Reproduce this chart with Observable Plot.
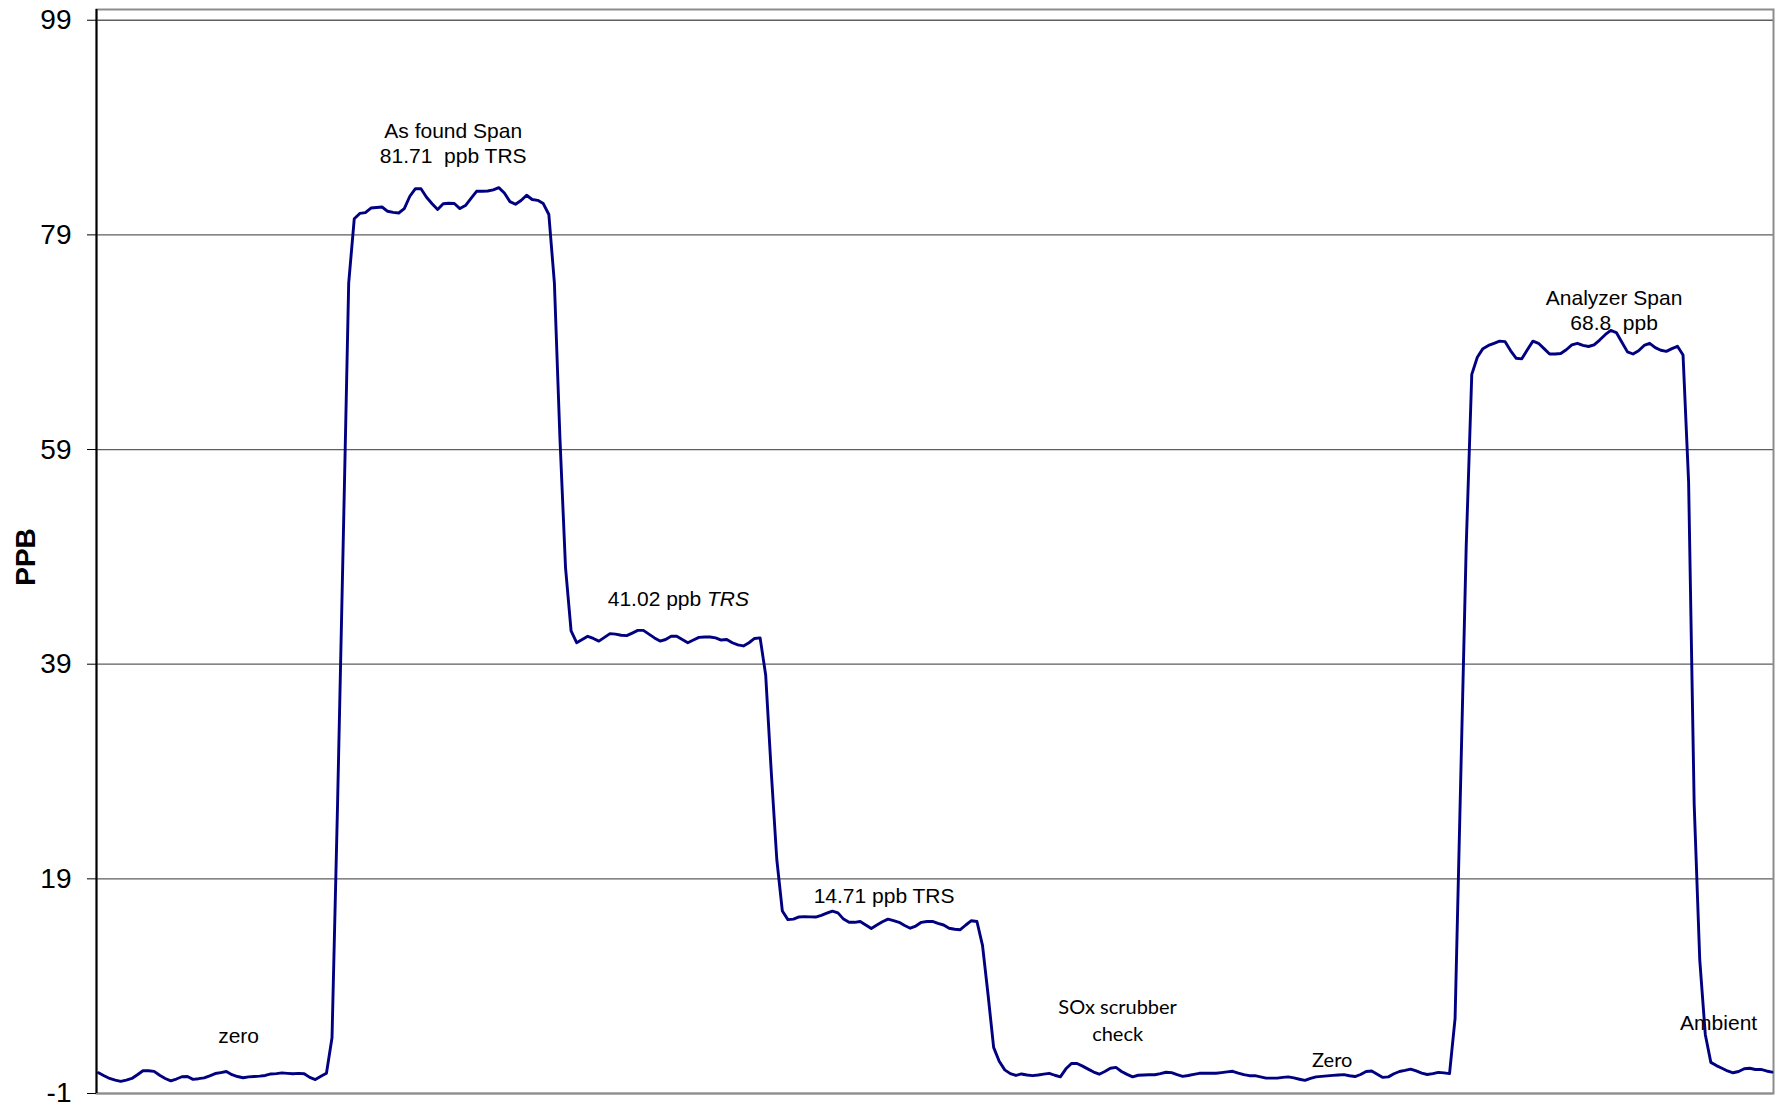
<!DOCTYPE html>
<html>
<head>
<meta charset="utf-8">
<script src="https://cdn.jsdelivr.net/npm/d3@7"></script>
<script src="https://cdn.jsdelivr.net/npm/@observablehq/plot@0.6"></script>
<style>
  body { margin: 0; background: #fff; }
  svg text { white-space: pre; }
</style>
</head>
<body>
<div id="chart"></div>
<script>
// Analyzer reading (PPB), one value per sample
const ppb = [
  // zero
  0.93, 0.65, 0.40, 0.25, 0.13, 0.25, 0.40, 0.75, 1.12, 1.12,
  1.06, 0.70, 0.40, 0.18, 0.35, 0.56, 0.58, 0.32, 0.38, 0.46,
  0.65, 0.86, 0.95, 1.05, 0.75, 0.58, 0.47, 0.55, 0.58, 0.62,
  0.68, 0.82, 0.85, 0.92, 0.88, 0.84, 0.88, 0.84, 0.50, 0.30,
  0.60, 0.88,
  // rise to as-found span
  4.2, 26, 50, 74.5, 80.5,
  81.0, 81.08, 81.5, 81.55, 81.6, 81.2, 81.1, 81.04, 81.45, 82.6,
  83.3, 83.3, 82.5, 81.9, 81.36, 81.9, 81.95, 81.92, 81.45, 81.73,
  82.4, 83.06, 83.07, 83.09, 83.2, 83.4, 82.9, 82.1, 81.85, 82.2,
  82.69, 82.3, 82.22, 81.92, 80.9,
  // drop to 41 ppb
  74.5, 60, 48, 42.1, 41.0,
  41.3, 41.6, 41.4, 41.15, 41.5, 41.85, 41.8, 41.7, 41.66, 41.9,
  42.15, 42.15, 41.8, 41.45, 41.15, 41.3, 41.6, 41.6, 41.3, 41.0,
  41.25, 41.5, 41.53, 41.53, 41.45, 41.25, 41.3, 41.0, 40.8, 40.7,
  41.0, 41.4, 41.45,
  // drop to 14.7 ppb
  38, 29, 20.8, 16.0, 15.2,
  15.25, 15.45, 15.48, 15.46, 15.44, 15.6, 15.8, 15.99, 15.83, 15.25,
  14.95, 14.95, 15.03, 14.7, 14.38, 14.7, 15.0, 15.25, 15.1, 14.95,
  14.65, 14.4, 14.6, 14.95, 15.03, 15.03, 14.85, 14.7, 14.4, 14.3,
  14.26, 14.7, 15.1, 15.03,
  // drop to SOx scrubber check / zero
  12.8, 8.2, 3.3, 2.0, 1.2, 0.85, 0.68, 0.82, 0.72, 0.66,
  0.72, 0.8, 0.88, 0.7, 0.55, 1.3, 1.8, 1.8,
  1.55, 1.27, 1.0, 0.8, 1.05, 1.35, 1.43, 1.05, 0.78, 0.55,
  0.7, 0.72, 0.75, 0.75, 0.85, 0.98, 0.94, 0.75, 0.6, 0.68,
  0.78, 0.88, 0.89, 0.89, 0.89, 0.95, 1.02, 1.07, 0.9, 0.76,
  0.66, 0.67, 0.55, 0.43, 0.43, 0.43, 0.5, 0.55, 0.45, 0.33,
  0.22, 0.4, 0.55, 0.6, 0.64, 0.69, 0.73, 0.76, 0.65, 0.58,
  0.77, 1.05, 1.1, 0.8, 0.5, 0.55, 0.84, 1.05, 1.15, 1.27,
  1.1, 0.9, 0.77, 0.85, 0.97, 0.92, 0.85,
  // rise to analyzer span
  6, 28, 50, 66, 67.6,
  68.4, 68.7, 68.9, 69.1, 69.05, 68.2, 67.5, 67.45, 68.3, 69.1,
  68.9, 68.4, 67.9, 67.9, 67.95, 68.3, 68.75, 68.9, 68.7, 68.6,
  68.75, 69.2, 69.7, 70.1, 69.9, 69.0, 68.1, 67.9, 68.2, 68.7,
  68.9, 68.5, 68.25, 68.15, 68.4, 68.62, 67.8,
  // drop to ambient
  56, 26, 11.5, 4.5, 1.9, 1.6, 1.35, 1.1, 0.93, 1.05,
  1.3, 1.35, 1.24, 1.24, 1.1, 0.99
];

const yTicks = [-1, 19, 39, 59, 79, 99];
const yLabel = "PPB";

// annotations: sample index and PPB level of the last text line's baseline
const arialNotes = [
  { i: 63.8, v: 85.67, text: "As found Span\n81.71  ppb TRS" },
  { i: 104.3, v: 44.39, text: "41.02 ppb TRS" },
  { i: 141.3, v: 16.74, text: "14.71 ppb TRS" },
  { i: 25.2, v: 3.66, text: "zero" },
  { i: 272.6, v: 70.11, text: "Analyzer Span\n68.8  ppb" },
  { i: 291.4, v: 4.96, text: "Ambient" }
];
const calibriNotes = [
  { i: 183.3, v: 3.85, text: "SOx scrubber\ncheck" },
  { i: 221.9, v: 1.45, text: "Zero" }
];

const data = ppb.map((v, i) => ({ i, v }));

const chart = Plot.plot({
  width: 1775,
  height: 1106,
  marginLeft: 96,
  marginRight: 2,
  marginTop: 9,
  marginBottom: 13,
  x: { domain: [0, ppb.length - 1], range: [98, 1771.5], axis: null },
  y: { domain: [-1, 100], axis: null },
  style: { fontFamily: "'Liberation Sans', Arial, sans-serif", color: "black", background: "white" },
  marks: [
    Plot.ruleY(yTicks, { stroke: "#5e5e5e", strokeWidth: 1.3 }),
    Plot.frame({ stroke: "#8c8c8c", strokeWidth: 2 }),
    Plot.ruleX([0], { dx: -2, stroke: "#000", strokeWidth: 2 }),
    Plot.axisY(yTicks, {
      tickSize: 9, tickPadding: 16, fontSize: 28, label: null, stroke: "#000",
      tickFormat: (d) => String(d)
    }),
    Plot.line(data, { x: "i", y: "v", stroke: "#000080", strokeWidth: 2.9 }),
    Plot.text(arialNotes, {
      x: "i", y: "v", text: "text",
      textAnchor: "middle", lineAnchor: "bottom", lineHeight: 1.22,
      fontSize: 21, fill: "#000",
      fontFamily: "'Liberation Sans', Arial, sans-serif"
    }),
    Plot.text(calibriNotes, {
      x: "i", y: "v", text: "text",
      textAnchor: "middle", lineAnchor: "bottom", lineHeight: 1.35,
      fontSize: 20, fill: "#000",
      fontFamily: "Lato, 'Open Sans', sans-serif"
    })
  ]
});

// italic "TRS" in the 41.02 label
d3.select(chart).selectAll("text")
  .filter(function () { return this.textContent === "41.02 ppb TRS"; })
  .each(function () {
    const t = d3.select(this);
    t.text("41.02 ppb ");
    t.append("tspan").attr("font-style", "italic").text("TRS");
  });

// y-axis title
d3.select(chart).append("text")
  .attr("transform", "translate(25,557) rotate(-90)")
  .attr("text-anchor", "middle")
  .attr("dominant-baseline", "central")
  .attr("font-size", 28)
  .attr("font-weight", "bold")
  .attr("font-family", "'Liberation Sans', Arial, sans-serif")
  .attr("fill", "#000")
  .text(yLabel);

document.getElementById("chart").appendChild(chart);
</script>
</body>
</html>
